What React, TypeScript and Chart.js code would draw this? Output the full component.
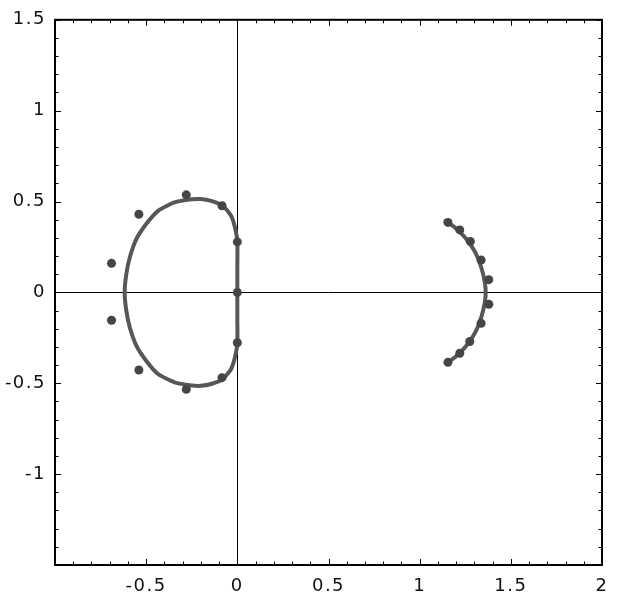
import React, { useEffect, useRef } from "react";
import { Chart, registerables } from "chart.js";

Chart.register(...registerables);

// Closed loop (left curve)
const loopX = [0, 0, 0, -0.013, -0.034, -0.08, -0.144, -0.2, -0.25, -0.344, -0.435, -0.5, -0.554, -0.59, -0.609, -0.618,
  -0.609, -0.59, -0.554, -0.5, -0.435, -0.344, -0.25, -0.2, -0.144, -0.08, -0.034, -0.013, 0, 0, 0];
const loopY = [0, 0.14, 0.28, 0.357, 0.421, 0.477, 0.504, 0.514, 0.512, 0.495, 0.449, 0.376, 0.293, 0.192, 0.1, 0,
  -0.1, -0.192, -0.293, -0.376, -0.449, -0.495, -0.512, -0.514, -0.504, -0.477, -0.421, -0.357, -0.28, -0.14, 0];

// Right arc
const arcX = [1.142, 1.2, 1.255, 1.305, 1.34, 1.358, 1.362, 1.358, 1.34, 1.305, 1.255, 1.2, 1.148];
const arcY = [0.394, 0.352, 0.295, 0.22, 0.13, 0.05, 0, -0.05, -0.13, -0.22, -0.295, -0.352, -0.39];

// Dots
const dotX = [-0.69, -0.54, -0.28, -0.084, 0, 0, 0, -0.084, -0.28, -0.54, -0.69,
  1.155, 1.22, 1.278, 1.337, 1.379, 1.379, 1.337, 1.275, 1.22, 1.155];
const dotY = [0.16, 0.43, 0.537, 0.477, 0.278, 0, -0.277, -0.469, -0.533, -0.427, -0.153,
  0.385, 0.344, 0.28, 0.178, 0.07, -0.065, -0.17, -0.27, -0.335, -0.385];

const xMin = -1, xMax = 2, yMin = -1.5, yMax = 1.5;
const xHiddenLabels = [-1];
const yHiddenLabels = [-1.5];

const zip = (xs: number[], ys: number[]) => xs.map((x, i) => ({ x, y: ys[i] }));

const spacingPlugin = {
  id: "letterSpacing",
  beforeLayout(chart: any) { (chart.ctx as any).letterSpacing = "1.5px"; },
  beforeDraw(chart: any) { (chart.ctx as any).letterSpacing = "1.5px"; },
};

const framePlugin = {
  id: "frameTicks",
  afterDatasetsDraw(chart: any) {
    const { ctx, chartArea: a, scales } = chart;
    const xs = scales.x, ys = scales.y;
    ctx.save();
    ctx.strokeStyle = "#000";
    ctx.lineWidth = 1;
    ctx.beginPath();
    for (let i = Math.round(xMin * 10); i <= Math.round(xMax * 10); i++) {
      const v = i / 10;
      const px = Math.round(xs.getPixelForValue(v)) + 0.5;
      const len = i % 5 === 0 ? 6 : 3.5;
      ctx.moveTo(px, a.bottom); ctx.lineTo(px, a.bottom - len);
      ctx.moveTo(px, a.top); ctx.lineTo(px, a.top + len);
    }
    for (let i = Math.round(yMin * 10); i <= Math.round(yMax * 10); i++) {
      const v = i / 10;
      const py = Math.round(ys.getPixelForValue(v)) + 0.5;
      const len = i % 5 === 0 ? 6 : 3.5;
      ctx.moveTo(a.left, py); ctx.lineTo(a.left + len, py);
      ctx.moveTo(a.right, py); ctx.lineTo(a.right - len, py);
    }
    ctx.stroke();
    ctx.lineWidth = 2;
    ctx.strokeRect(a.left, a.top, a.right - a.left, a.bottom - a.top);
    ctx.restore();
  },
};

export default function App() {
  const ref = useRef<HTMLCanvasElement>(null);
  useEffect(() => {
    if (!ref.current) return;
    const tickFont = { family: "'DejaVu Sans', sans-serif", size: 18 };
    const chart = new Chart(ref.current, {
      type: "scatter",
      data: {
        datasets: [
          {
            data: zip(dotX, dotY),
            showLine: false,
            pointRadius: 4.5,
            pointBackgroundColor: "#454545",
            pointBorderWidth: 0,
            order: 0,
          },
          {
            data: zip(loopX, loopY),
            showLine: true,
            pointRadius: 0,
            borderColor: "#575757",
            borderWidth: 4,
            tension: 0.2,
            borderCapStyle: "round",
            borderJoinStyle: "round",
            order: 1,
          },
          {
            data: zip(arcX, arcY),
            showLine: true,
            pointRadius: 0,
            borderColor: "#575757",
            borderWidth: 4,
            tension: 0.3,
            borderCapStyle: "round",
            borderJoinStyle: "round",
            order: 1,
          },
        ],
      } as any,
      options: {
        animation: false,
        responsive: false,
        layout: { padding: { top: 18, right: 21, left: 0, bottom: 0 } },
        plugins: { legend: { display: false }, tooltip: { enabled: false } },
        scales: {
          x: {
            type: "linear",
            min: xMin,
            max: xMax,
            afterFit: (s: any) => { s.height = 43; },
            border: { display: false },
            grid: {
              drawTicks: false,
              color: (c: any) => (c.tick && c.tick.value === 0 ? "#000" : "transparent"),
              lineWidth: 1,
            },
            ticks: {
              stepSize: 0.5,
              padding: 11,
              color: "#111",
              font: tickFont,
              maxRotation: 0,
              autoSkip: false,
              callback: (v: any) => (xHiddenLabels.includes(Number(v)) ? "" : String(Number(v))),
            },
          },
          y: {
            type: "linear",
            min: yMin,
            max: yMax,
            afterFit: (s: any) => { s.width = 55; },
            border: { display: false },
            grid: {
              drawTicks: false,
              color: (c: any) => (c.tick && c.tick.value === 0 ? "#000" : "transparent"),
              lineWidth: 1,
            },
            ticks: {
              stepSize: 0.5,
              padding: 9,
              color: "#111",
              font: tickFont,
              autoSkip: false,
              callback: (v: any) => (yHiddenLabels.includes(Number(v)) ? "" : String(Number(v))),
            },
          },
        },
      } as any,
      plugins: [spacingPlugin, framePlugin],
    });
    return () => chart.destroy();
  }, []);
  return (
    <div style={{ position: "absolute", left: 0, top: 0, width: 623, height: 608, background: "#fff" }}>
      <canvas ref={ref} width={623} height={608} style={{ display: "block" }} />
    </div>
  );
}
